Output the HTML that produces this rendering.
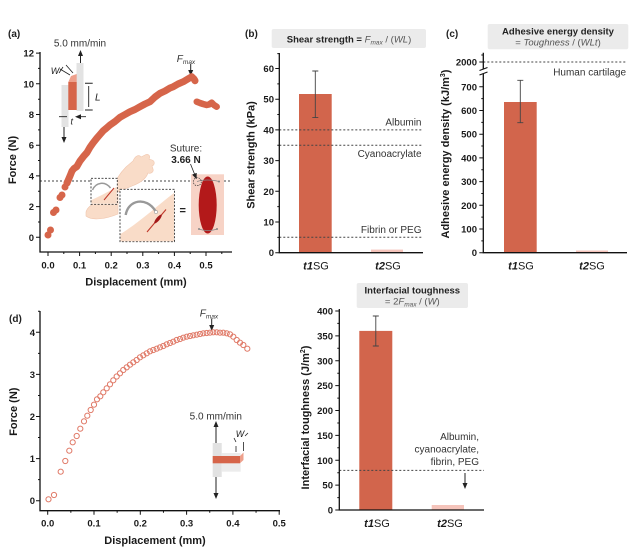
<!DOCTYPE html>
<html><head><meta charset="utf-8"><style>
html,body{margin:0;padding:0;background:#fff;}
svg{display:block;font-family:"Liberation Sans",Arial,sans-serif;}
.tk{font-size:9.5px;font-weight:bold;fill:#1a1a1a;}
.al{font-size:11px;font-weight:bold;fill:#1a1a1a;}
.an{font-size:10px;fill:#333;}
.ax{stroke:#111;stroke-width:1.3;fill:none;}
.dl{stroke:#444;stroke-width:1;stroke-dasharray:2 2;fill:none;}
</style></head><body>
<svg width="644" height="549" viewBox="0 0 644 549" xmlns="http://www.w3.org/2000/svg">
<defs>
<marker id="ah" markerWidth="6" markerHeight="6" refX="3" refY="3" orient="auto" markerUnits="userSpaceOnUse"><path d="M0,0.5 L6,3 L0,5.5 Z" fill="#222"/></marker>
</defs>

<!-- ================= PANEL (a) ================= -->
<text x="8" y="37" style="font-size:10px;font-weight:bold" fill="#222">(a)</text>
<!-- dashed suture line -->
<line x1="40" y1="181" x2="232" y2="181" class="dl"/>
<!-- inset top-left -->
<text x="80" y="46.5" class="an" text-anchor="middle" fill="#222">5.0 mm/min</text>
<rect x="61.5" y="85" width="7" height="42" fill="#e3e3e3"/>
<rect x="76.5" y="63" width="7" height="48" fill="#e3e3e3"/>
<rect x="68.3" y="82" width="8.4" height="28" fill="#d6654a"/>
<path d="M68.3,82 L71,76 L76.7,74 L76.7,82 Z" fill="#eea08c"/>
<line x1="80.5" y1="63" x2="80.5" y2="53" stroke="#222" stroke-width="1" marker-end="url(#ah)"/>
<line x1="64" y1="127" x2="64" y2="140" stroke="#222" stroke-width="1" marker-end="url(#ah)"/>
<path d="M85,83.3 H92.7 M85,110 H92.7" stroke="#222" stroke-width="1"/>
<line x1="88.7" y1="86" x2="88.7" y2="107" stroke="#222" stroke-width="0.9"/>
<text x="95" y="100.5" style="font-size:10px;font-style:italic" fill="#222">L</text>
<text x="55" y="74" style="font-size:9px;font-style:italic" fill="#222" text-anchor="middle">W</text>
<path d="M59,73 L63,67 M60,69 L70,75 M66,65 L73,73" stroke="#222" stroke-width="0.8" fill="none"/>
<path d="M59,116.7 H67 M86,116.7 H78" stroke="#222" stroke-width="0.9" marker-end="url(#ah)"/>
<text x="71.7" y="124.5" style="font-size:9px;font-style:italic" fill="#222" text-anchor="middle">t</text>
<!-- Fmax -->
<text x="186" y="62" style="font-size:10px;font-style:italic" fill="#333" text-anchor="middle">F<tspan style="font-size:6.5px" dy="2">max</tspan></text>
<line x1="190.7" y1="64" x2="190.7" y2="73" stroke="#222" stroke-width="1" marker-end="url(#ah)"/>

<!-- hand illustration -->
<path d="M86,212 C88,204 100,200 118,194 L118,214 C106,219 92,221 86,216 Z" fill="#f9dcc8" stroke="#f0c6ae" stroke-width="0.6"/>
<path d="M112,190 C115,181 120,173 126,167 L133,161 C135,156 139,154 141,157 L145,155 C148,153 151,156 149,159 L152,160 C155,161 155,165 152,166 L153,169 C154,172 151,174 148,173 C146,179 140,183 132,186 L118,192 Z" fill="#f9dcc8" stroke="#f0c6ae" stroke-width="0.6"/>
<!-- small box -->
<rect x="91" y="178.3" width="26.3" height="26" fill="#fff" stroke="#333" stroke-width="0.9" stroke-dasharray="2 1.5"/>
<path d="M91.5,200 C100,196 110,191 116.8,186.7 L116.8,203.8 L91.5,203.8 Z" fill="#f9dcc8"/>
<path d="M92.5,190 C96,182 105,181 110.5,188" stroke="#999" stroke-width="1.5" fill="none"/>
<line x1="104" y1="200" x2="114" y2="188" stroke="#c0392b" stroke-width="1"/>
<!-- big box -->
<rect x="120" y="189.3" width="54.5" height="52.4" fill="#fff" stroke="#333" stroke-width="0.9" stroke-dasharray="2 1.5"/>
<path d="M120.5,234 C140,222 158,205 174,193 L174,241.2 L120.5,241.2 Z" fill="#f9dcc8"/>
<path d="M125.7,215 C128,200 146,196 155.5,211" stroke="#999" stroke-width="2.4" fill="none"/>
<circle cx="156" cy="212" r="1.6" fill="#fff" stroke="#999" stroke-width="0.6"/>
<line x1="147" y1="232" x2="166" y2="209.5" stroke="#c0392b" stroke-width="1.1"/>
<ellipse cx="158" cy="219" rx="5.5" ry="1.7" transform="rotate(-50 158 219)" fill="#a31818"/>
<!-- equals -->
<text x="182.7" y="214" style="font-size:11px;font-weight:bold" fill="#222" text-anchor="middle">=</text>
<!-- right image -->
<rect x="191" y="174.3" width="33" height="60.7" fill="#f7d3c6"/>
<ellipse cx="207.7" cy="205" rx="9" ry="28.5" fill="#b3191a"/>
<path d="M197,181.5 C203,179.5 212,179.5 219,181.5 M199,229 C204,231 212,231 217,229" stroke="#888" stroke-width="0.8" fill="none"/>
<circle cx="219" cy="181.5" r="1" fill="#888"/><circle cx="199" cy="229" r="1" fill="#888"/><circle cx="217" cy="229" r="1" fill="#888"/>
<circle cx="197.3" cy="181.7" r="4" fill="none" stroke="#333" stroke-width="0.7" stroke-dasharray="1.5 1"/>
<text x="186" y="151.5" class="an" text-anchor="middle" fill="#222">Suture:</text>
<text x="186" y="163" style="font-size:10px;font-weight:bold" fill="#222" text-anchor="middle">3.66 N</text>
<line x1="190.5" y1="164" x2="195.5" y2="176.5" stroke="#222" stroke-width="0.8" marker-end="url(#ah)"/>

<!-- data (a) -->
<g fill="#d6654a">
<circle cx="48" cy="235" r="3.5"/><circle cx="50.5" cy="230" r="3.5"/>
<circle cx="53.5" cy="212.5" r="3.5"/><circle cx="56" cy="210" r="3.5"/>
<circle cx="60" cy="197.5" r="3.5"/><circle cx="62" cy="195" r="3.5"/>
<circle cx="65" cy="187" r="3.5"/><circle cx="67" cy="183" r="3.5"/>
</g>
<path d="M67,183 L70,176 L72,171 L74,168.5 L76.7,166.7 L80,161 L83.3,156.7 L87,152.5 L90,147.3 L93,143 L96.7,138.3 L100,134.5 L103.3,130.7 L106,128.5 L110,125 L115,121.5 L120,117.3 L125,114.5 L130,111.7 L135,109.5 L140,106.7 L145,104 L150,101.7 L155,97 L160,93.3 L165,91 L170,88 L173.3,86.7 L178,84 L183.3,81.7 L187,79.5 L191.7,76.7 L194,79 L195,80.7" stroke="#d6654a" stroke-width="7" stroke-linecap="round" stroke-linejoin="round" fill="none"/>
<path d="M196.7,101.7 L200,103 L203,104 L206.7,105 L209,104.5 L211.7,102.7 L214,105 L216.7,106.7" stroke="#d6654a" stroke-width="6.5" stroke-linecap="round" stroke-linejoin="round" fill="none"/>

<!-- axes (a) -->
<path class="ax" d="M40,52 V252 H232"/>
<path stroke="#111" stroke-width="1" d="M40,237.3h-4M40,206.6h-4M40,175.9h-4M40,145.2h-4M40,114.5h-4M40,83.8h-4M40,53.1h-4M40,222h-2M40,191.3h-2M40,160.5h-2M40,129.9h-2M40,99.2h-2M40,68.4h-2M48,252v4M79.6,252v4M111.2,252v4M142.8,252v4M174.4,252v4M206,252v4M63.8,252v2M95.4,252v2M127,252v2M158.6,252v2M190.2,252v2M221.8,252v2"/>
<g class="tk" text-anchor="end">
<text x="34" y="240.8">0</text><text x="34" y="210.1">2</text><text x="34" y="179.4">4</text><text x="34" y="148.7">6</text><text x="34" y="118">8</text><text x="34" y="87.3">10</text><text x="34" y="56.6">12</text>
</g>
<g class="tk" text-anchor="middle">
<text x="48" y="268.5">0.0</text><text x="79.6" y="268.5">0.1</text><text x="111.2" y="268.5">0.2</text><text x="142.8" y="268.5">0.3</text><text x="174.4" y="268.5">0.4</text><text x="206" y="268.5">0.5</text>
</g>
<text class="al" transform="translate(16,160) rotate(-90)" text-anchor="middle">Force (N)</text>
<text class="al" x="136" y="285.5" text-anchor="middle">Displacement (mm)</text>

<!-- ================= PANEL (b) ================= -->
<text x="245" y="37" style="font-size:10px;font-weight:bold" fill="#222">(b)</text>
<rect x="271.7" y="29" width="154.3" height="19" rx="2" fill="#ebebeb"/>
<text x="349" y="42.5" text-anchor="middle" style="font-size:9.5px" fill="#222"><tspan font-weight="bold">Shear strength</tspan><tspan font-weight="bold"> = </tspan><tspan font-style="italic" fill="#555">F</tspan><tspan font-style="italic" fill="#555" style="font-size:6.5px" dy="2">max</tspan><tspan fill="#555" dy="-2"> / (</tspan><tspan font-style="italic" fill="#555">WL</tspan><tspan fill="#555">)</tspan></text>
<rect x="299" y="94" width="32.7" height="158.7" fill="#d2654c"/>
<rect x="371" y="249.6" width="32" height="3.1" fill="#f5c4bb"/>
<path d="M315.3,71V117.6M312.3,71h6M312.3,117.6h6" stroke="#444" stroke-width="0.9"/>
<line x1="279.3" y1="129.9" x2="423" y2="129.9" class="dl"/>
<line x1="279.3" y1="145.3" x2="423" y2="145.3" class="dl"/>
<line x1="279.3" y1="237.3" x2="423" y2="237.3" class="dl"/>
<g class="an" text-anchor="end">
<text x="421.5" y="125.5">Albumin</text>
<text x="421.5" y="157">Cyanoacrylate</text>
<text x="421.5" y="233">Fibrin or PEG</text>
</g>
<path class="ax" d="M279.3,53 V252.7 H423"/>
<path stroke="#111" stroke-width="1" d="M279.3,252.7h-4M279.3,222h-4M279.3,191.3h-4M279.3,160.6h-4M279.3,129.9h-4M279.3,99.2h-4M279.3,68.5h-4M279.3,237.35h-2M279.3,206.65h-2M279.3,175.95h-2M279.3,145.25h-2M279.3,114.55h-2M279.3,83.85h-2M279.3,53.6h-2"/>
<g class="tk" text-anchor="end">
<text x="274" y="256.2">0</text><text x="274" y="225.5">10</text><text x="274" y="194.8">20</text><text x="274" y="164.1">30</text><text x="274" y="133.4">40</text><text x="274" y="102.7">50</text><text x="274" y="72">60</text>
</g>
<text class="al" transform="translate(254.7,155) rotate(-90)" text-anchor="middle">Shear strength (kPa)</text>
<text x="316" y="269.5" text-anchor="middle" style="font-size:11px" fill="#1a1a1a"><tspan font-weight="bold" font-style="italic">t1</tspan>SG</text>
<text x="388" y="269.5" text-anchor="middle" style="font-size:11px" fill="#1a1a1a"><tspan font-weight="bold" font-style="italic">t2</tspan>SG</text>

<!-- ================= PANEL (c) ================= -->
<text x="446" y="37" style="font-size:10px;font-weight:bold" fill="#222">(c)</text>
<rect x="487.7" y="24" width="140.6" height="25.3" rx="2" fill="#ebebeb"/>
<text x="558" y="34.3" text-anchor="middle" style="font-size:9.5px;font-weight:bold" fill="#222">Adhesive energy density</text>
<text x="558" y="45.5" text-anchor="middle" style="font-size:9.5px" fill="#555">= <tspan font-style="italic">Toughness</tspan> / (<tspan font-style="italic">WLt</tspan>)</text>
<rect x="504" y="102" width="32.7" height="150.7" fill="#d2654c"/>
<rect x="576" y="250.5" width="32" height="2.2" fill="#f5c4bb"/>
<path d="M520.3,80.3V122.7M517.3,80.3h6M517.3,122.7h6" stroke="#444" stroke-width="0.9"/>
<line x1="483.3" y1="62" x2="627" y2="62" class="dl"/>
<text x="626" y="75.5" class="an" text-anchor="end">Human cartilage</text>
<path class="ax" d="M483.3,52.7 V252.7 H627"/>
<rect x="480" y="69" width="8" height="5" fill="#fff"/>
<path d="M479.5,70.5 L487.5,67.5 M479.5,75 L487.5,72" stroke="#111" stroke-width="1"/>
<path stroke="#111" stroke-width="1" d="M483.3,252.7h-4M483.3,229h-4M483.3,205.3h-4M483.3,181.6h-4M483.3,157.9h-4M483.3,134.2h-4M483.3,110.5h-4M483.3,86.8h-4M483.3,62h-4M483.3,240.85h-2M483.3,217.15h-2M483.3,193.45h-2M483.3,169.75h-2M483.3,146.05h-2M483.3,122.35h-2M483.3,98.65h-2M483.3,55h-2"/>
<g class="tk" text-anchor="end">
<text x="477" y="256.2">0</text><text x="477" y="232.5">100</text><text x="477" y="208.8">200</text><text x="477" y="185.1">300</text><text x="477" y="161.4">400</text><text x="477" y="137.7">500</text><text x="477" y="114">600</text><text x="477" y="90.3">700</text><text x="477" y="65.5">2000</text>
</g>
<text class="al" transform="translate(449,154) rotate(-90)" text-anchor="middle">Adhesive energy density (kJ/m<tspan style="font-size:7px" dy="-4">3</tspan><tspan dy="4">)</tspan></text>
<text x="521" y="269.5" text-anchor="middle" style="font-size:11px" fill="#1a1a1a"><tspan font-weight="bold" font-style="italic">t1</tspan>SG</text>
<text x="592" y="269.5" text-anchor="middle" style="font-size:11px" fill="#1a1a1a"><tspan font-weight="bold" font-style="italic">t2</tspan>SG</text>

<!-- ================= PANEL (d) ================= -->
<text x="9" y="322" style="font-size:10px;font-weight:bold" fill="#222">(d)</text>
<text x="209" y="316.5" style="font-size:10px;font-style:italic" fill="#333" text-anchor="middle">F<tspan style="font-size:6.5px" dy="2">max</tspan></text>
<line x1="211.7" y1="318.5" x2="211.7" y2="328" stroke="#222" stroke-width="1" marker-end="url(#ah)"/>
<!-- inset (d) -->
<text x="215.8" y="419.5" class="an" text-anchor="middle" fill="#222">5.0 mm/min</text>
<rect x="212.7" y="443" width="9" height="34" fill="#e2e2e2"/>
<rect x="221.7" y="453" width="19" height="18.7" fill="#ececec"/>
<rect x="212.7" y="456" width="27.3" height="7.3" fill="#d6654a"/>
<path d="M240,456 L243.5,452.5 L243.5,460 L240,463.3 Z" fill="#eea08c"/>
<line x1="216" y1="443" x2="216" y2="424" stroke="#222" stroke-width="1" marker-end="url(#ah)"/>
<line x1="216" y1="477" x2="216" y2="496" stroke="#222" stroke-width="1" marker-end="url(#ah)"/>
<text x="240" y="437" style="font-size:9px;font-style:italic" fill="#222" text-anchor="middle">W</text>
<path d="M236,446 L236,452 M243.5,442 L243.5,451 M234,438 L236,442 M248,433 L245,436" stroke="#222" stroke-width="0.8" fill="none"/>
<!-- data (d) -->
<g fill="none" stroke="#e07a68" stroke-width="1">
<circle cx="48.5" cy="499.3" r="2.6"/><circle cx="54" cy="495" r="2.6"/><circle cx="60.7" cy="471.7" r="2.6"/><circle cx="65.3" cy="461" r="2.6"/><circle cx="69.3" cy="450.7" r="2.6"/><circle cx="72.7" cy="442.3" r="2.6"/><circle cx="76.7" cy="436" r="2.6"/><circle cx="80.3" cy="428.7" r="2.6"/><circle cx="84" cy="421.3" r="2.6"/><circle cx="87.3" cy="415.7" r="2.6"/><circle cx="90.7" cy="410" r="2.6"/><circle cx="94" cy="404.7" r="2.6"/><circle cx="97" cy="399.3" r="2.6"/><circle cx="100.3" cy="396.3" r="2.6"/><circle cx="103.3" cy="392.3" r="2.6"/><circle cx="106.7" cy="388.3" r="2.6"/><circle cx="110" cy="384.3" r="2.6"/><circle cx="113.3" cy="380.3" r="2.6"/><circle cx="116.7" cy="376.5" r="2.6"/><circle cx="120" cy="373.3" r="2.6"/><circle cx="123.3" cy="370" r="2.6"/><circle cx="126.7" cy="367.3" r="2.6"/><circle cx="130" cy="364.7" r="2.6"/><circle cx="133.3" cy="362.3" r="2.6"/><circle cx="136.7" cy="360" r="2.6"/><circle cx="140" cy="357.3" r="2.6"/><circle cx="143.3" cy="355.3" r="2.6"/><circle cx="146.7" cy="353.3" r="2.6"/><circle cx="150" cy="351.3" r="2.6"/><circle cx="153.3" cy="350" r="2.6"/><circle cx="156.7" cy="348.7" r="2.6"/><circle cx="160" cy="347.3" r="2.6"/><circle cx="163.3" cy="346" r="2.6"/><circle cx="166.7" cy="344.3" r="2.6"/><circle cx="170" cy="343" r="2.6"/><circle cx="173.3" cy="341.7" r="2.6"/><circle cx="176.7" cy="340" r="2.6"/><circle cx="180" cy="339" r="2.6"/><circle cx="183.3" cy="337.7" r="2.6"/><circle cx="186.7" cy="336.7" r="2.6"/><circle cx="190" cy="336" r="2.6"/><circle cx="193.3" cy="335.3" r="2.6"/><circle cx="196.7" cy="334.7" r="2.6"/><circle cx="200" cy="334" r="2.6"/><circle cx="203.3" cy="333.3" r="2.6"/><circle cx="206.7" cy="333" r="2.6"/><circle cx="210" cy="332.7" r="2.6"/><circle cx="213.3" cy="332.3" r="2.6"/><circle cx="216.7" cy="332.3" r="2.6"/><circle cx="220" cy="332.7" r="2.6"/><circle cx="223.3" cy="332.7" r="2.6"/><circle cx="226.7" cy="333.3" r="2.6"/><circle cx="230" cy="334.3" r="2.6"/><circle cx="233.3" cy="336.7" r="2.6"/><circle cx="236.7" cy="340" r="2.6"/><circle cx="240" cy="342.7" r="2.6"/><circle cx="243.3" cy="345" r="2.6"/><circle cx="247.3" cy="348.7" r="2.6"/>
</g>
<path class="ax" d="M40,311 V510.7 H280"/>
<path stroke="#111" stroke-width="1" d="M40,500.7h-4M40,458.6h-4M40,416.5h-4M40,374.4h-4M40,332.3h-4M40,479.65h-2M40,437.55h-2M40,395.45h-2M40,353.35h-2M40,311.25h-2M47.7,510.7v4M94,510.7v4M140.3,510.7v4M186.6,510.7v4M232.9,510.7v4M279.2,510.7v4M70.85,510.7v2M117.15,510.7v2M163.45,510.7v2M209.75,510.7v2M256.05,510.7v2"/>
<g class="tk" text-anchor="end">
<text x="35" y="504.2">0</text><text x="35" y="462.1">1</text><text x="35" y="420">2</text><text x="35" y="377.9">3</text><text x="35" y="335.8">4</text>
</g>
<g class="tk" text-anchor="middle">
<text x="47.7" y="526.5">0.0</text><text x="94" y="526.5">0.1</text><text x="140.3" y="526.5">0.2</text><text x="186.6" y="526.5">0.3</text><text x="232.9" y="526.5">0.4</text><text x="279.2" y="526.5">0.5</text>
</g>
<text class="al" transform="translate(17,411.7) rotate(-90)" text-anchor="middle">Force (N)</text>
<text class="al" x="155" y="544" text-anchor="middle">Displacement (mm)</text>

<!-- ================= PANEL (e) ================= -->
<rect x="356.7" y="283" width="111.3" height="25" rx="2" fill="#ebebeb"/>
<text x="412.3" y="293.5" text-anchor="middle" style="font-size:9.5px;font-weight:bold" fill="#222">Interfacial toughness</text>
<text x="412.3" y="304.3" text-anchor="middle" style="font-size:9.5px" fill="#555">= 2<tspan font-style="italic">F</tspan><tspan style="font-size:6.5px;font-style:italic" dy="2">max</tspan><tspan dy="-2"> / (</tspan><tspan font-style="italic">W</tspan>)</text>
<rect x="359.3" y="330.9" width="33" height="179.1" fill="#d2654c"/>
<rect x="431.7" y="505" width="32.3" height="5" fill="#f5c4bb"/>
<path d="M375.8,316V346M372.8,316h6M372.8,346h6" stroke="#444" stroke-width="0.9"/>
<line x1="339.3" y1="470.4" x2="484" y2="470.4" class="dl"/>
<g class="an" text-anchor="end">
<text x="479" y="440">Albumin,</text>
<text x="479" y="452.5">cyanoacrylate,</text>
<text x="479" y="465">fibrin, PEG</text>
</g>
<line x1="465" y1="473" x2="465" y2="486" stroke="#222" stroke-width="1" marker-end="url(#ah)"/>
<path class="ax" d="M339.3,309 V510 H484"/>
<path stroke="#111" stroke-width="1" d="M339.3,510h-4M339.3,485.1h-4M339.3,460.25h-4M339.3,435.4h-4M339.3,410.5h-4M339.3,385.6h-4M339.3,360.75h-4M339.3,335.9h-4M339.3,311h-4M339.3,497.6h-2M339.3,472.7h-2M339.3,447.8h-2M339.3,423h-2M339.3,398.1h-2M339.3,373.2h-2M339.3,348.3h-2M339.3,323.4h-2"/>
<g class="tk" text-anchor="end">
<text x="333" y="513.5">0</text><text x="333" y="488.6">50</text><text x="333" y="463.75">100</text><text x="333" y="438.9">150</text><text x="333" y="414">200</text><text x="333" y="389.1">250</text><text x="333" y="364.25">300</text><text x="333" y="339.4">350</text><text x="333" y="314.5">400</text>
</g>
<text class="al" transform="translate(309,417.5) rotate(-90)" text-anchor="middle">Interfacial toughness (J/m<tspan style="font-size:7px" dy="-4">2</tspan><tspan dy="4">)</tspan></text>
<text x="377" y="527" text-anchor="middle" style="font-size:11px" fill="#1a1a1a"><tspan font-weight="bold" font-style="italic">t1</tspan>SG</text>
<text x="450" y="527" text-anchor="middle" style="font-size:11px" fill="#1a1a1a"><tspan font-weight="bold" font-style="italic">t2</tspan>SG</text>
</svg>
</body></html>
